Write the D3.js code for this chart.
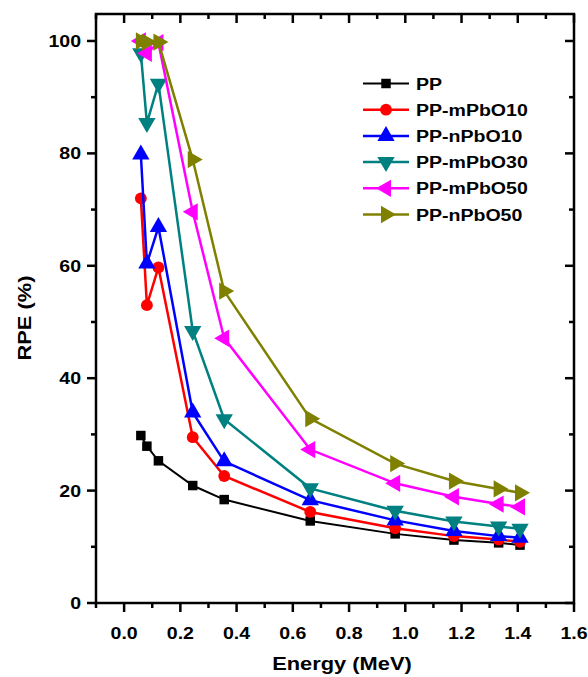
<!DOCTYPE html>
<html><head><meta charset="utf-8">
<script src="https://cdn.jsdelivr.net/npm/d3@7"></script>
<style>body{margin:0;background:#fff}svg{display:block}text{font-family:"Liberation Sans",Arial,sans-serif;font-weight:bold}</style>
</head><body><svg id="c" width="588" height="677"></svg>
<script>
const energies = [0.0595, 0.081, 0.122, 0.244, 0.356, 0.662, 0.964, 1.173, 1.332, 1.408];
const seriesNames = ["PP", "PP-mPbO10", "PP-nPbO10", "PP-mPbO30", "PP-mPbO50", "PP-nPbO50"];
const PP        = [29.8, 27.9, 25.3, 20.9, 18.4, 14.6, 12.3, 11.2, 10.7, 10.3];
const PP_mPbO10 = [72.0, 53.0, 59.7, 29.5, 22.6, 16.2, 13.3, 11.9, 11.3, 10.9];
const PP_nPbO10 = [79.8, 60.4, 66.9, 33.9, 25.2, 18.3, 14.7, 12.8, 11.9, 11.6];
const PP_mPbO30 = [97.8, 85.4, 92.4, 48.4, 32.7, 20.4, 16.4, 14.5, 13.6, 13.2];
const PP_mPbO50 = [100.0, 97.8, 99.7, 69.6, 47.1, 27.3, 21.3, 18.9, 17.6, 17.1];
const PP_nPbO50 = [100.0, 99.8, 99.8, 78.9, 55.5, 32.8, 24.8, 21.7, 20.3, 19.6];
const xTickLabels = ["0.0","0.2","0.4","0.6","0.8","1.0","1.2","1.4","1.6"];
const yTickLabels = ["0","20","40","60","80","100"];

const seriesValues = [PP, PP_mPbO10, PP_nPbO10, PP_mPbO30, PP_mPbO50, PP_nPbO50];
const colors = ["#000000","#ff0000","#0000ff","#008080","#ff00ff","#808000"];
const symbols = [d3.symbolSquare, d3.symbolCircle, d3.symbolTriangle, d3.symbolTriangle, d3.symbolTriangle, d3.symbolTriangle];
const rotations = [0, 0, 0, 180, -90, 90];
const sizes = [90, 110, 130, 130, 130, 130];
const widths = [2, 2.5, 2.5, 2.5, 2.5, 2.5];

const L = 96, R = 574, T = 14, B = 603;
const x = d3.scaleLinear().domain([-0.1, 1.6]).range([L, R]);
const y = d3.scaleLinear().domain([0, 104.8]).range([B, T]);
const svg = d3.select("#c");
const SX = 1.15;
function txt(px, py, s, size, anchor, rot) {
  return svg.append("text")
    .attr("transform", `translate(${px},${py})${rot ? " rotate(" + rot + ")" : ""} scale(${SX},1)`)
    .attr("text-anchor", anchor).attr("font-size", size).text(s);
}

// frame
svg.append("rect").attr("x", L).attr("y", T).attr("width", R - L).attr("height", B - T)
  .attr("fill", "none").attr("stroke", "#000").attr("stroke-width", 2.5);

const xMajor = d3.range(0, 1.61, 0.2), xMinor = d3.range(-0.1, 1.61, 0.2);
const yMajor = d3.range(0, 101, 20), yMinor = d3.range(10, 101, 20);
const tk = svg.append("g").attr("stroke", "#000").attr("stroke-width", 2.5);
xMajor.forEach(v => { tk.append("line").attr("x1", x(v)).attr("x2", x(v)).attr("y1", B).attr("y2", B + 9);
  tk.append("line").attr("x1", x(v)).attr("x2", x(v)).attr("y1", T).attr("y2", T + 9); });
xMinor.forEach(v => { tk.append("line").attr("x1", x(v)).attr("x2", x(v)).attr("y1", B).attr("y2", B + 5);
  tk.append("line").attr("x1", x(v)).attr("x2", x(v)).attr("y1", T).attr("y2", T + 5); });
yMajor.forEach(v => { tk.append("line").attr("x1", L - 9).attr("x2", L).attr("y1", y(v)).attr("y2", y(v));
  tk.append("line").attr("x1", R - 9).attr("x2", R).attr("y1", y(v)).attr("y2", y(v)); });
yMinor.forEach(v => { tk.append("line").attr("x1", L - 5).attr("x2", L).attr("y1", y(v)).attr("y2", y(v));
  tk.append("line").attr("x1", R - 5).attr("x2", R).attr("y1", y(v)).attr("y2", y(v)); });

xMajor.forEach((v, i) => txt(x(v), 639, xTickLabels[i], 17, "middle"));
yMajor.forEach((v, i) => txt(81, y(v) + 6, yTickLabels[i], 17, "end"));

txt(342, 670, "Energy (MeV)", 19, "middle");
txt(31, 318, "RPE (%)", 19, "middle", -90);

const line = d3.line().x(d => x(d[0])).y(d => y(d[1]));
seriesValues.forEach((vals, s) => {
  const pts = energies.map((e, i) => [e, vals[i]]);
  const g = svg.append("g");
  g.append("path").attr("d", line(pts)).attr("fill", "none").attr("stroke", colors[s]).attr("stroke-width", widths[s]);
  const sym = d3.symbol().type(symbols[s]).size(sizes[s]);
  pts.forEach(p => g.append("path").attr("d", sym())
    .attr("transform", `translate(${x(p[0])},${y(p[1])}) rotate(${rotations[s]})`).attr("fill", colors[s]));
});

// legend
seriesNames.forEach((n, s) => {
  const yy = 83.5 + s * 26.2;
  svg.append("line").attr("x1", 363).attr("x2", 409).attr("y1", yy).attr("y2", yy).attr("stroke", colors[s]).attr("stroke-width", widths[s]);
  svg.append("path").attr("d", d3.symbol().type(symbols[s]).size(sizes[s])()).attr("transform", `translate(386,${yy}) rotate(${rotations[s]})`).attr("fill", colors[s]);
  txt(416, yy + 6, n, 17, "start");
});
</script></body></html>
